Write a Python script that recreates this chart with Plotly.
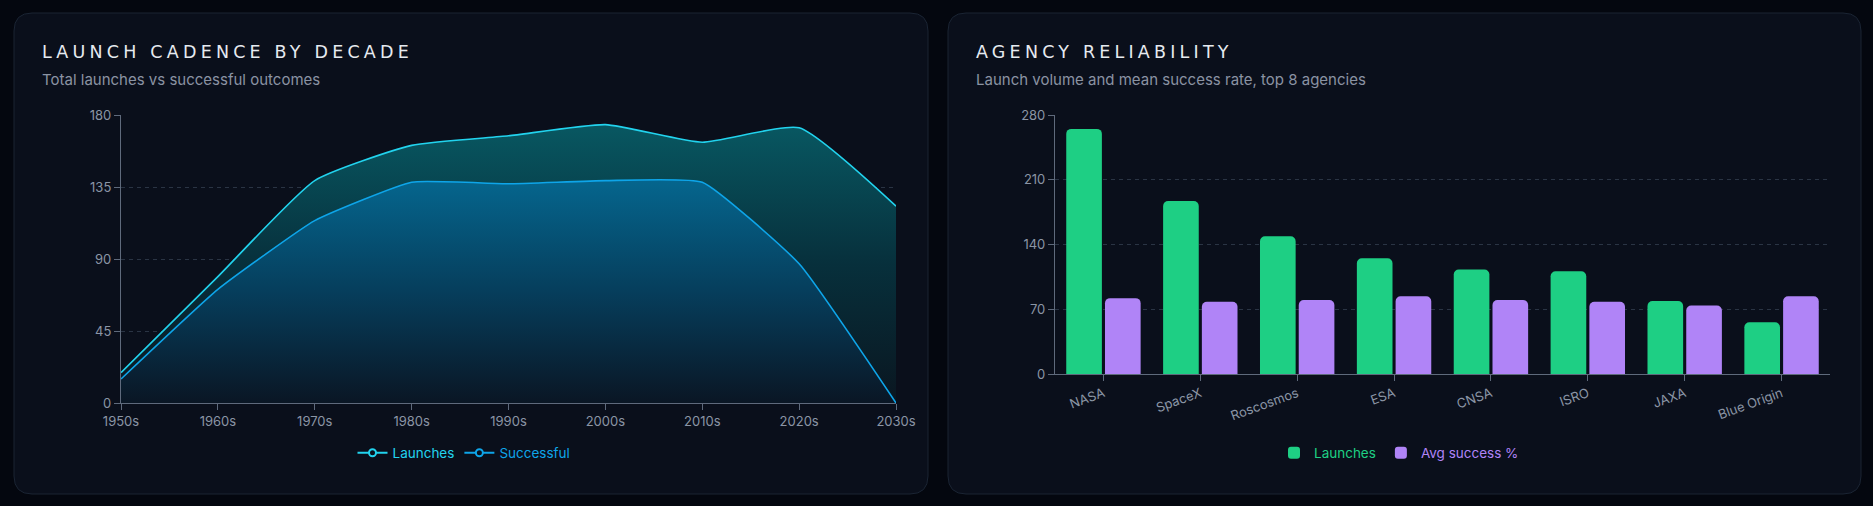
import plotly.graph_objects as go

W, H = 1873, 506

# ---------------- data ----------------
decades = ["1950s", "1960s", "1970s", "1980s", "1990s", "2000s", "2010s", "2020s", "2030s"]
launches = [19, 79, 139, 161, 167, 174, 163, 172, 123]
successful = [15, 71, 114, 138, 137, 139, 138, 87, 0]

agencies = ["NASA", "SpaceX", "Roscosmos", "ESA", "CNSA", "ISRO", "JAXA", "Blue Origin"]
agency_launches = [265, 187, 149, 125, 113, 111, 79, 56]
avg_success = [82, 78, 80, 84, 80, 78, 74, 84]

left_ticks = [0, 45, 90, 135, 180]
right_ticks = [0, 70, 140, 210, 280]

# ---------------- styling ----------------
PAGE_BG = "#04070f"
CARD_BG = "#0a0f1b"
CARD_BORDER = "#1a2433"
TITLE_C = "#e6eaf0"
SUB_C = "#8a93a3"
TICK_C = "#8b95a5"
AXIS_C = "#5f6a7c"
GRID_C = "#2a3444"
CYAN = "#22d3ee"
SKY = "#0ea5e9"
GREEN = "#1ecf84"
PURPLE = "#b084f7"
FONT = "Inter"


def px(x):
    return x / W


def py(y):
    return 1 - y / H


def rounded_rect(x0, y0, x1, y1, r):
    pts = [
        f"M{px(x0 + r)},{py(y0)}",
        f"L{px(x1 - r)},{py(y0)}",
        f"Q{px(x1)},{py(y0)} {px(x1)},{py(y0 + r)}",
        f"L{px(x1)},{py(y1 - r)}",
        f"Q{px(x1)},{py(y1)} {px(x1 - r)},{py(y1)}",
        f"L{px(x0 + r)},{py(y1)}",
        f"Q{px(x0)},{py(y1)} {px(x0)},{py(y1 - r)}",
        f"L{px(x0)},{py(y0 + r)}",
        f"Q{px(x0)},{py(y0)} {px(x0 + r)},{py(y0)}",
        "Z",
    ]
    return " ".join(pts)


fig = go.Figure()

# ---------------- left: area chart ----------------
fig.add_trace(go.Scatter(
    x=decades, y=launches, mode="lines", line=dict(color=CYAN, width=1.6, shape="spline", smoothing=0.5),
    fill="tozeroy",
    fillgradient=dict(type="vertical", start=0, stop=175,
                      colorscale=[[0, "rgba(10,22,32,1)"], [0.5, "rgba(7,48,60,1)"], [1, "rgba(8,88,98,1)"]]),
    showlegend=False, hoverinfo="skip", xaxis="x", yaxis="y",
))
fig.add_trace(go.Scatter(
    x=decades, y=successful, mode="lines", line=dict(color=SKY, width=1.6, shape="spline", smoothing=0.4),
    fill="tozeroy",
    fillgradient=dict(type="vertical", start=0, stop=140,
                      colorscale=[[0, "rgba(10,22,36,1)"], [0.5, "rgba(6,62,92,1)"], [1, "rgba(5,102,142,1)"]]),
    showlegend=False, hoverinfo="skip", xaxis="x", yaxis="y",
))
# legend entries
for nm, col in [("Launches", CYAN), ("Successful", SKY)]:
    fig.add_trace(go.Scatter(
        x=[None], y=[None], mode="lines+markers",
        name=f'<span style="color:{col}">{nm}</span>',
        line=dict(color=col, width=2),
        marker=dict(symbol="circle", size=7, color=CARD_BG, line=dict(color=col, width=2)),
        xaxis="x", yaxis="y", legend="legend",
    ))

# ---------------- right: bar chart ----------------
fig.add_trace(go.Bar(
    x=agencies, y=agency_launches, name=f'<span style="color:{GREEN}">Launches</span>',
    marker=dict(color=GREEN, line=dict(width=0)), xaxis="x2", yaxis="y2", legend="legend2",
    hoverinfo="skip",
))
fig.add_trace(go.Bar(
    x=agencies, y=avg_success, name=f'<span style="color:{PURPLE}">Avg success %</span>',
    marker=dict(color=PURPLE, line=dict(width=0)), xaxis="x2", yaxis="y2", legend="legend2",
    hoverinfo="skip",
))

axis_common = dict(
    showline=True, linecolor=AXIS_C, linewidth=1.2,
    ticks="outside", ticklen=6, tickcolor=AXIS_C, tickwidth=1.2,
    tickfont=dict(family=FONT, size=13, color=TICK_C),
    zeroline=False, fixedrange=True, automargin=False,
)

shapes = [
    dict(type="path", xref="paper", yref="paper", path=rounded_rect(14, 13, 928, 494, 18),
         fillcolor=CARD_BG, line=dict(color=CARD_BORDER, width=1), layer="below"),
    dict(type="path", xref="paper", yref="paper", path=rounded_rect(948, 13, 1861, 494, 18),
         fillcolor=CARD_BG, line=dict(color=CARD_BORDER, width=1), layer="below"),
]


def title_text(t):
    return f'<span style="letter-spacing:4.2px">{t}</span>'


annotations = [
    dict(text=title_text("LAUNCH CADENCE BY DECADE"), x=px(40), y=py(52), xref="paper", yref="paper",
         xanchor="left", yanchor="middle", showarrow=False,
         font=dict(family="DejaVu Sans", size=17.5, color=TITLE_C)),
    dict(text="Total launches vs successful outcomes", x=px(40), y=py(79), xref="paper", yref="paper",
         xanchor="left", yanchor="middle", showarrow=False,
         font=dict(family=FONT, size=15, color=SUB_C)),
    dict(text=title_text("AGENCY RELIABILITY"), x=px(974), y=py(52), xref="paper", yref="paper",
         xanchor="left", yanchor="middle", showarrow=False,
         font=dict(family="DejaVu Sans", size=17.5, color=TITLE_C)),
    dict(text="Launch volume and mean success rate, top 8 agencies", x=px(974), y=py(79), xref="paper",
         yref="paper", xanchor="left", yanchor="middle", showarrow=False,
         font=dict(family=FONT, size=15, color=SUB_C)),
]

fig.update_layout(
    autosize=True,
    margin=dict(l=0, r=0, t=0, b=0, pad=0, autoexpand=False),
    paper_bgcolor=PAGE_BG, plot_bgcolor="rgba(0,0,0,0)",
    font=dict(family=FONT, color=TICK_C),
    shapes=shapes, annotations=annotations,
    barmode="group", bargap=0.2, bargroupgap=0.08, barcornerradius=5,
    xaxis=dict(domain=[px(121), px(896)], type="category", range=[0, 8], showgrid=False,
               anchor="y", **axis_common),
    yaxis=dict(domain=[py(403), py(115)], range=[0, 180], tickvals=left_ticks, showgrid=True,
               gridcolor=GRID_C, griddash="4px,4px", gridwidth=1, anchor="x", **axis_common),
    xaxis2=dict(domain=[px(1055), px(1830)], type="category", range=[-0.5, 7.5], showgrid=False,
                tickangle=-20, anchor="y2", **axis_common),
    yaxis2=dict(domain=[py(374), py(115)], range=[0, 280], tickvals=right_ticks, showgrid=True,
                gridcolor=GRID_C, griddash="4px,4px", gridwidth=1, anchor="x2", **axis_common),
    legend=dict(x=px(464), y=py(453), xanchor="center", yanchor="middle", orientation="h",
                font=dict(family=FONT, size=13.5, color=CYAN), bgcolor="rgba(0,0,0,0)", itemwidth=30),
    legend2=dict(x=px(1399), y=py(453), xanchor="center", yanchor="middle", orientation="h",
                 font=dict(family=FONT, size=13.5, color=GREEN), bgcolor="rgba(0,0,0,0)", itemwidth=30),
    hovermode=False,
)

fig.write_html(
    "out.html",
    default_width="100vw",
    default_height="100vh",
    config={"displayModeBar": False, "responsive": True},
    post_script="document.body.style.margin='0';document.body.style.padding='0';"
                "document.body.style.overflow='hidden';document.body.style.background='#04070f';"
                "document.documentElement.style.overflow='hidden';"
                "var gd=document.getElementById('{plot_id}');Plotly.Plots.resize(gd);",
)
